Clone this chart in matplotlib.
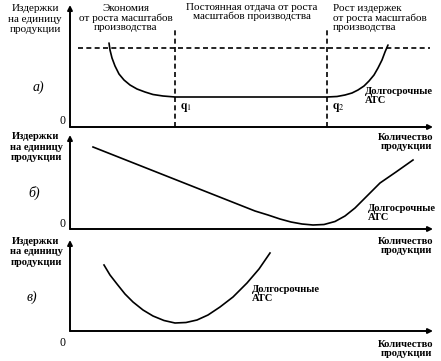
import matplotlib
matplotlib.use("Agg")
import matplotlib.pyplot as plt

'''
Три графика долгосрочных средних издержек (ATC)
'''

W, H = 441, 361

# panel a: long-run ATC with economies / constant returns / diseconomies
a_x = [39, 40, 42, 45, 49, 54, 60, 67, 75, 83, 93, 105,
       257, 267, 275, 282, 288, 294, 299, 304, 308, 312, 315, 318]
a_y = [84, 77, 69, 61, 53, 47, 42, 38, 35, 32.5, 31, 30,
       30, 30.5, 32, 34, 37, 41, 46, 52, 59, 67, 75, 82]
q_marks = [105, 257]          # q1, q2
dash_level = 79
q_labels = ["1", "2"]

# panel б: falling, then rising
b_x = [23, 185, 198, 210, 221, 232, 243, 254, 265, 275, 285, 297, 310, 326, 343]
b_y = [82, 18, 14, 10, 7, 5, 4, 4.5, 7.5, 13, 21, 33, 46, 57, 69]

# panel в: U-shaped
c_x = [34, 40, 47, 55, 63, 73, 83, 94, 105, 116, 127, 138, 150, 163, 177, 189, 200]
c_y = [66, 56, 47, 37, 29, 21, 15, 10.5, 8, 8.5, 11, 16, 24, 34, 48, 62, 78]

y_label = "Издержки\nна единицу\nпродукции"
x_label = "Количество\nпродукции"
curve_label = "Долгосрочные\nАТС"
panel_tags = ["а)", "б)", "в)"]
top_labels = ["Экономия\nот роста масштабов\nпроизводства",
              "Постоянная отдача от роста\nмасштабов производства",
              "Рост издержек\nот роста масштабов\nпроизводства"]

plt.rcParams['font.family'] = ['Liberation Serif', 'DejaVu Serif']
plt.rcParams['mathtext.fontset'] = 'stix'

fig = plt.figure(figsize=(W / 100, H / 100), dpi=100)

def fx(px):
  return px / W

def fy(py):
  return 1 - py / H

def panel(ox, oy, top, right=433):
  ax = fig.add_axes([fx(ox), fy(oy), (right - ox) / W, (oy - top) / H])
  ax.set_xlim(0, right - ox)
  ax.set_ylim(0, oy - top)
  ax.axis("off")
  ap = dict(arrowstyle="-|>", lw=1.4, color="black", mutation_scale=7, shrinkA=0, shrinkB=0)
  ax.annotate("", xy=(1, 0), xytext=(0, 0), xycoords="axes fraction", arrowprops=ap, annotation_clip=False)
  ax.annotate("", xy=(0, 1), xytext=(0, 0), xycoords="axes fraction", arrowprops=ap, annotation_clip=False)
  return ax

fs = 8
fb = 7.6

# ---- a)
ax = panel(70, 127, 5)
ax.plot(a_x, a_y, color="black", lw=1.2, solid_capstyle="round")
ax.plot([8, 360], [dash_level, dash_level], color="black", lw=1.2, dashes=(3, 2))
for q in q_marks:
  ax.plot([q, q], [0, 100], color="black", lw=1.2, dashes=(3, 2))
for q, lab in zip(q_marks, q_labels):
  ax.text(q + 5, 19, r"$\mathbf{q}_{%s}$" % lab, fontsize=8.5, va="center", ha="left")
ax.text(295, 31, curve_label, fontsize=fb, weight="bold", va="center", ha="left", linespacing=1.1)

# ---- б)
ax = panel(70, 229, 135)
ax.plot(b_x, b_y, color="black", lw=1.2)
ax.text(298, 16, curve_label, fontsize=fb, weight="bold", va="center", ha="left", linespacing=1.1)

# ---- в)
ax = panel(70, 331, 240)
ax.plot(c_x, c_y, color="black", lw=1.2)
ax.text(182, 37, curve_label, fontsize=fb, weight="bold", va="center", ha="left", linespacing=1.1)

# labels around the axes
fig.text(fx(35), fy(19), y_label, fontsize=fs, ha="center", va="center", linespacing=1.15)
for cy in (147, 252):
  fig.text(fx(36), fy(cy), y_label, fontsize=fb, weight="bold", ha="center", va="center", linespacing=1.15)
for tag, (tx, ty) in zip(panel_tags, [(38, 87), (34, 193), (32, 297)]):
  fig.text(fx(tx), fy(ty), tag, fontsize=10, style="italic", ha="center", va="center")
for zy in (121, 224, 343):
  fig.text(fx(63), fy(zy), "0", fontsize=8.5, ha="center", va="center")
for ly in (142, 246, 349):
  fig.text(fx(406), fy(ly), x_label, fontsize=fb, weight="bold", ha="center", va="center", linespacing=1.1)

fig.text(fx(126), fy(18), top_labels[0], fontsize=fs, ha="center", va="center", linespacing=1.05)
fig.text(fx(252), fy(12), top_labels[1], fontsize=fs, ha="center", va="center", linespacing=1.05)
fig.text(fx(333), fy(18), top_labels[2], fontsize=fs, ha="left", va="center", linespacing=1.05)

fig.savefig("out.png", dpi=100)
